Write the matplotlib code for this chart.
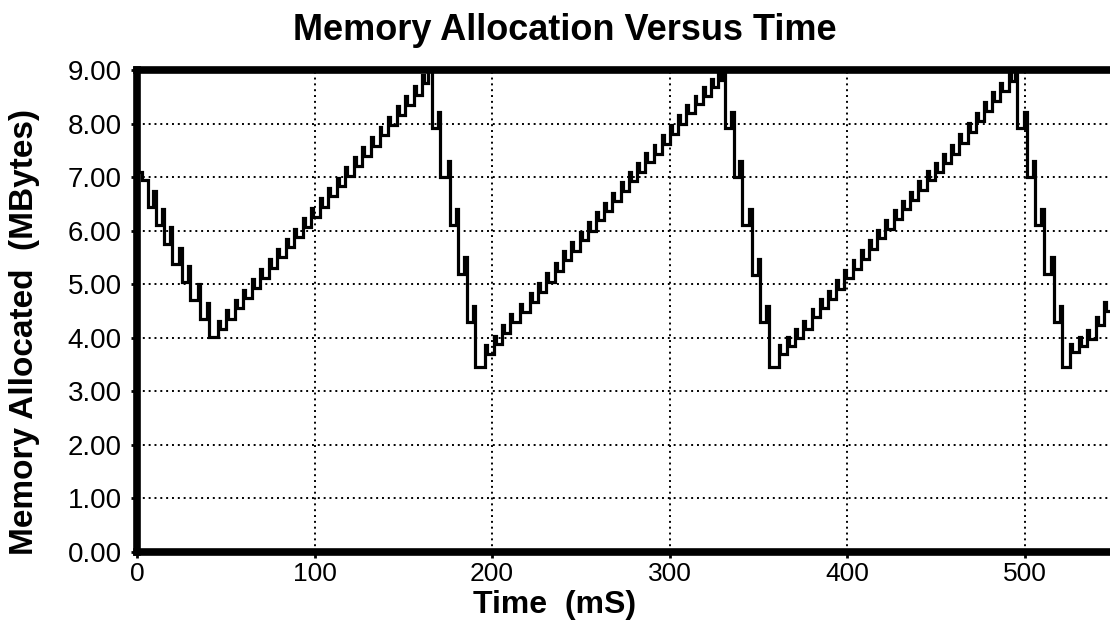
import matplotlib
matplotlib.use("Agg")
import matplotlib.pyplot as plt

# ---- data (time in mS, memory in MBytes) ----
# initial descent: step times and levels
fall0_t = [0.0, 3.0, 6.4, 10.5, 15.2, 19.9, 25.2, 29.9, 35.5, 40.6]
fall0_y = [7.10, 6.95, 6.45, 6.10, 5.76, 5.38, 5.04, 4.70, 4.35, 4.01]

rise1_t = [45.5, 50.3, 55.0, 59.8, 64.6, 69.4, 74.2, 79.0, 83.8, 88.6, 93.4,
           98.2, 103.0, 107.8, 112.6, 117.4, 122.2, 127.0, 131.8, 136.6,
           141.4, 146.2, 151.0, 155.8, 160.6]
rise1_y = [4.16, 4.35, 4.55, 4.74, 4.93, 5.12, 5.31, 5.50, 5.69, 5.88, 6.07,
           6.26, 6.45, 6.64, 6.83, 7.02, 7.21, 7.40, 7.59, 7.78, 7.97, 8.16,
           8.35, 8.54, 8.75]
peak1_t, peak1_y = 164.1, 9.0
fall1_t = [166.0, 170.7, 176.3, 181.0, 185.7, 190.4]
fall1_y = [7.92, 7.01, 6.10, 5.20, 4.29, 3.45]

rise2_t = [196.1, 201.0, 205.5, 210.1, 215.8, 221.4, 226.0, 230.6, 235.2,
           240.0, 244.7, 249.3, 253.9, 258.5, 263.2, 267.8, 272.4, 277.0,
           281.6, 286.2, 290.9, 295.5, 300.1, 304.8, 309.4, 314.0, 318.6,
           323.2, 327.0]
rise2_y = [3.70, 3.88, 4.08, 4.29, 4.48, 4.67, 4.86, 5.05, 5.24, 5.46, 5.62,
           5.82, 6.00, 6.19, 6.36, 6.55, 6.74, 6.93, 7.10, 7.29, 7.44, 7.62,
           7.81, 8.00, 8.19, 8.36, 8.52, 8.68, 8.82]
peak2_t, peak2_y = 329.4, 9.0
fall2_t = [331.3, 336.0, 340.7, 346.3, 351.0, 355.7]
fall2_y = [7.92, 7.01, 6.10, 5.18, 4.29, 3.45]

rise3_t = [361.3, 366.0, 370.6, 375.3, 379.9, 384.5, 389.1, 393.8, 398.4,
           403.0, 407.7, 412.3, 416.9, 421.5, 426.2, 430.8, 435.4, 440.1,
           444.7, 449.3, 453.9, 458.6, 463.2, 467.8, 472.4, 477.1, 481.7,
           486.3, 490.9]
rise3_y = [3.70, 3.85, 4.00, 4.16, 4.38, 4.56, 4.72, 4.92, 5.11, 5.29, 5.47,
           5.66, 5.86, 6.04, 6.22, 6.40, 6.57, 6.76, 6.95, 7.10, 7.27, 7.44,
           7.64, 7.85, 8.04, 8.24, 8.42, 8.60, 8.80]
peak3_t, peak3_y = 494.4, 9.0
fall3_t = [495.8, 501.2, 506.0, 510.6, 516.2, 521.0]
fall3_y = [7.92, 7.01, 6.10, 5.20, 4.29, 3.45]

rise4_t = [525.6, 530.3, 535.0, 540.0, 544.8]
rise4_y = [3.73, 3.85, 3.98, 4.23, 4.50]

x_ticks = [0, 100, 200, 300, 400, 500]
y_ticks = [0, 1, 2, 3, 4, 5, 6, 7, 8, 9]

# ---- build the stepped trace (small overshoot spikes at each step) ----
time_ms, mem_mb = [], []


def add_fall(ts, ys, skip_spikes=2):
    for i, (t, y) in enumerate(zip(ts, ys)):
        if i > skip_spikes:
            time_ms.append(t - 1.4)
            mem_mb.append(mem_mb[-1] + 0.30)
        time_ms.append(t)
        mem_mb.append(y)


def add_rise(ts, ys):
    for t, y in zip(ts, ys):
        time_ms.append(t)
        mem_mb.append(y + 0.16)
        time_ms.append(t + 1.1)
        mem_mb.append(y)


def add_peak(t, y):
    time_ms.append(t)
    mem_mb.append(y)


def add_fall_after_peak(ts, ys):
    time_ms.append(ts[0])
    mem_mb.append(ys[0])
    for i in range(1, len(ts)):
        time_ms.append(ts[i] - 1.4)
        mem_mb.append(ys[i - 1] + 0.30)
        time_ms.append(ts[i])
        mem_mb.append(ys[i])


add_fall(fall0_t, fall0_y)
add_rise(rise1_t, rise1_y)
add_peak(peak1_t, peak1_y)
add_fall_after_peak(fall1_t, fall1_y)
add_rise(rise2_t, rise2_y)
add_peak(peak2_t, peak2_y)
add_fall_after_peak(fall2_t, fall2_y)
add_rise(rise3_t, rise3_y)
add_peak(peak3_t, peak3_y)
add_fall_after_peak(fall3_t, fall3_y)
add_rise(rise4_t, rise4_y)
time_ms.append(560.0)
mem_mb.append(mem_mb[-1])

# ---- figure ----
W, H = 1110, 631
fig = plt.figure(figsize=(W / 100, H / 100), dpi=100)
fig.patch.set_facecolor("white")
font = ["Liberation Sans", "DejaVu Sans"]

ax = fig.add_axes([137 / W, (H - 552) / H, (W - 137) / W, (552 - 70) / H])
ax.plot(time_ms, mem_mb, drawstyle="steps-post", color="black", lw=2.3,
        solid_joinstyle="miter", zorder=3)

ax.set_xlim(0, 548)
ax.set_ylim(0, 9)
ax.set_xticks(x_ticks)
ax.set_yticks(y_ticks)
ax.set_xticklabels([str(v) for v in x_ticks], family=font, fontsize=19)
ax.set_yticklabels([f"{v:.2f}" for v in y_ticks], family=font, fontsize=20)
ax.grid(True, color="black", linestyle=(0, (1, 2)), linewidth=1.4)

for side in ("left", "bottom", "top"):
    ax.spines[side].set_linewidth(5.5)
    ax.spines[side].set_color("black")
ax.spines["right"].set_visible(False)
ax.tick_params(axis="both", length=4, width=2, color="black", labelcolor="black")
ax.tick_params(axis="y", pad=7)
ax.tick_params(axis="x", pad=3)

fig.text(565 / W, 1 - 30 / H, "Memory Allocation Versus Time", ha="center",
         va="center", fontsize=26, fontweight="bold", family=font)
fig.text(555 / W, 1 - 605 / H, "Time  (mS)", ha="center", va="center",
         fontsize=23, fontweight="bold", family=font)
fig.text(25 / W, 1 - 332 / H, "Memory Allocated  (MBytes)", ha="center",
         va="center", rotation=90, fontsize=24, fontweight="bold", family=font)

fig.savefig("out.png", dpi=100, facecolor="white")
